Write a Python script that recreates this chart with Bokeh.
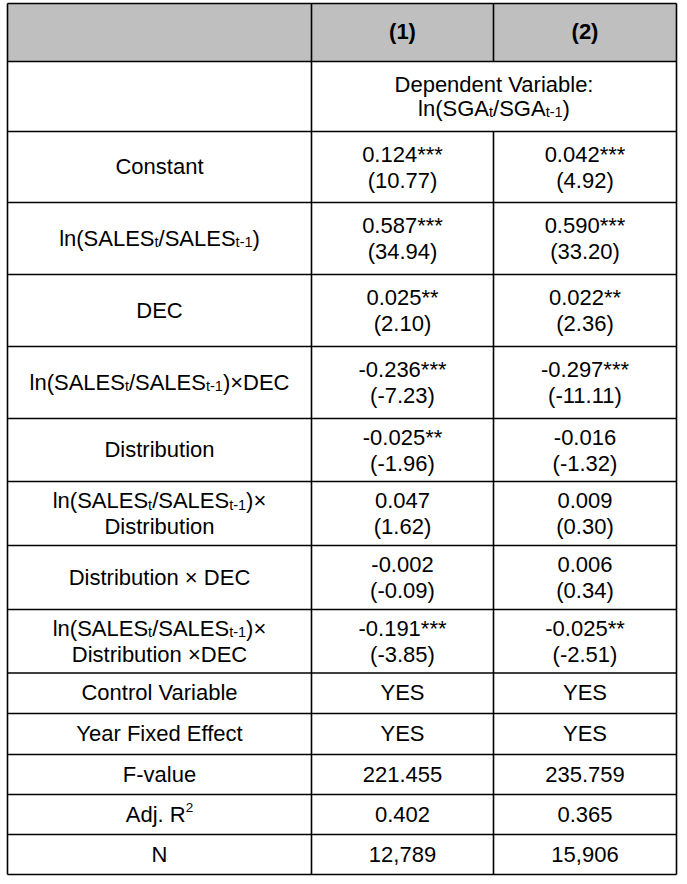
from bokeh.plotting import figure
from bokeh.models import ColumnDataSource, Range1d
from bokeh.embed import file_html
from bokeh.resources import INLINE
from bokeh.core.properties import value

# ---------------- data ----------------
col_headers = ["(1)", "(2)"]
dep_var_lines = ["Dependent Variable:", "ln(SGA_{t}/SGA_{t-1})"]

var_labels = [
    ["Constant"],
    ["ln(SALES_{t}/SALES_{t-1})"],
    ["DEC"],
    ["ln(SALES_{t}/SALES_{t-1})×DEC"],
    ["Distribution"],
    ["ln(SALES_{t}/SALES_{t-1})×", "Distribution"],
    ["Distribution × DEC"],
    ["ln(SALES_{t}/SALES_{t-1})×", "Distribution ×DEC"],
]
coef_1 = [0.124, 0.587, 0.025, -0.236, -0.025, 0.047, -0.002, -0.191]
tstat_1 = [10.77, 34.94, 2.10, -7.23, -1.96, 1.62, -0.09, -3.85]
stars_1 = ["***", "***", "**", "***", "**", "", "", "***"]
coef_2 = [0.042, 0.590, 0.022, -0.297, -0.016, 0.009, 0.006, -0.025]
tstat_2 = [4.92, 33.20, 2.36, -11.11, -1.32, 0.30, 0.34, -2.51]
stars_2 = ["***", "***", "**", "***", "", "", "", "**"]

stat_labels = ["Control Variable", "Year Fixed Effect", "F-value", "Adj. R^{2}", "N"]
stat_1 = ["YES", "YES", "221.455", "0.402", "12,789"]
stat_2 = ["YES", "YES", "235.759", "0.365", "15,906"]

# ---------------- layout ----------------
FONT = "Liberation Sans"
MAIN, SUB, SUP = 22.0, 14.5, 13.5
col_edges = [7, 311, 493, 676]
row_edges = [3, 61, 131, 202, 274, 346, 418, 481, 545, 609, 672.5, 713, 754, 794, 834, 874]
HEADER_FILL = "#BFBFBF"

# Arial / Liberation Sans advance widths (per 1000 em)
W = {" ": 278, "(": 333, ")": 333, "/": 278, "-": 333, "×": 584, ":": 278, ".": 278,
     "0": 556, "1": 556, "2": 556, "3": 556, "4": 556, "5": 556, "6": 556, "7": 556, "8": 556, "9": 556,
     "A": 667, "B": 667, "C": 722, "D": 722, "E": 667, "F": 611, "G": 778, "L": 556, "N": 722,
     "R": 722, "S": 667, "V": 667, "Y": 667,
     "a": 556, "b": 556, "c": 500, "d": 556, "e": 556, "f": 278, "i": 222, "j": 222, "l": 222,
     "n": 556, "o": 556, "p": 556, "r": 333, "s": 500, "t": 278, "u": 556, "v": 500, "x": 500}


def parse(s):
    segs, buf, i = [], "", 0
    while i < len(s):
        if s[i] in "_^" and i + 1 < len(s) and s[i + 1] == "{":
            if buf:
                segs.append((buf, "n"))
                buf = ""
            j = s.index("}", i)
            segs.append((s[i + 2:j], "sub" if s[i] == "_" else "sup"))
            i = j + 1
        else:
            buf += s[i]
            i += 1
    if buf:
        segs.append((buf, "n"))
    return segs


def width(t, size):
    return sum(W.get(c, 556) for c in t) * size / 1000.0


xs, ys, texts, sizes, aligns = [], [], [], [], []


def put_line(s, cx, base):
    segs = parse(s)
    if len(segs) == 1 and segs[0][1] == "n":
        xs.append(cx); ys.append(base); texts.append(s)
        sizes.append(f"{MAIN}px"); aligns.append("center")
        return
    spec = []
    for t, k in segs:
        size = MAIN if k == "n" else (SUB if k == "sub" else SUP)
        off = 0 if k == "n" else (4.0 if k == "sub" else -7.0)
        spec.append((t, size, off))
    total = sum(width(t, sz) for t, sz, _ in spec)
    x = cx - total / 2
    for t, sz, off in spec:
        xs.append(x); ys.append(base + off); texts.append(t)
        sizes.append(f"{sz}px"); aligns.append("left")
        x += width(t, sz)


def put_cell(lines, cx, top, bot):
    c = (top + bot) / 2
    if len(lines) == 1:
        put_line(lines[0], cx, c - 0.3)
    else:
        put_line(lines[0], cx, c - 13)
        put_line(lines[1], cx, c + 13.3)


lab_cx = (col_edges[0] + col_edges[1]) / 2
c1_cx = (col_edges[1] + col_edges[2]) / 2
c2_cx = (col_edges[2] + col_edges[3]) / 2

# dependent variable header
dep_cx = (col_edges[1] + col_edges[3]) / 2
put_line(dep_var_lines[0], dep_cx, 83.5)
put_line(dep_var_lines[1], dep_cx, 107.5)

for i, lab in enumerate(var_labels):
    top, bot = row_edges[2 + i], row_edges[3 + i]
    put_cell(lab, lab_cx, top, bot)
    put_cell([f"{coef_1[i]:.3f}{stars_1[i]}", f"({tstat_1[i]:.2f})"], c1_cx, top, bot)
    put_cell([f"{coef_2[i]:.3f}{stars_2[i]}", f"({tstat_2[i]:.2f})"], c2_cx, top, bot)

n0 = 2 + len(var_labels)
for i, lab in enumerate(stat_labels):
    top, bot = row_edges[n0 + i], row_edges[n0 + i + 1]
    put_cell([lab], lab_cx, top, bot)
    put_cell([stat_1[i]], c1_cx, top, bot)
    put_cell([stat_2[i]], c2_cx, top, bot)

# ---------------- figure ----------------
PW, PH = 684, 880
p = figure(width=PW, height=PH, x_range=Range1d(0, PW), y_range=Range1d(PH, 0),
           output_backend="svg", toolbar_location=None, x_axis_type=None, y_axis_type=None,
           min_border=0, background_fill_color="white", border_fill_color="white")
p.grid.visible = False
p.outline_line_color = None

# header fill
p.quad(left=[col_edges[0]], right=[col_edges[3]], top=[row_edges[0]], bottom=[row_edges[1]],
       fill_color=HEADER_FILL, line_color=None)

# grid lines
hx0, hx1, hy = [], [], []
for y in row_edges:
    hx0.append(col_edges[0]); hx1.append(col_edges[3]); hy.append(y)
p.segment(x0=hx0, x1=hx1, y0=hy, y1=hy, line_color="black", line_width=1.6)
vx, vy0, vy1 = [], [], []
for x in (col_edges[0], col_edges[1], col_edges[3]):
    vx.append(x); vy0.append(row_edges[0]); vy1.append(row_edges[-1])
vx += [col_edges[2], col_edges[2]]
vy0 += [row_edges[0], row_edges[2]]
vy1 += [row_edges[1], row_edges[-1]]
p.segment(x0=vx, x1=vx, y0=vy0, y1=vy1, line_color="black", line_width=1.6)

# header texts
p.text(x=[c1_cx, c2_cx], y=[31, 31], text=col_headers, text_font=value(FONT),
       text_font_size=f"{MAIN}px", text_font_style="bold", text_align="center",
       text_baseline="alphabetic", text_color="black")

src = ColumnDataSource(dict(x=xs, y=ys, text=texts, size=sizes, align=aligns))
p.text(x="x", y="y", text="text", source=src, text_font=value(FONT),
       text_font_size="size", text_align="align", text_baseline="alphabetic",
       text_color="black")

open("out.html", "w").write(file_html(p, INLINE))
